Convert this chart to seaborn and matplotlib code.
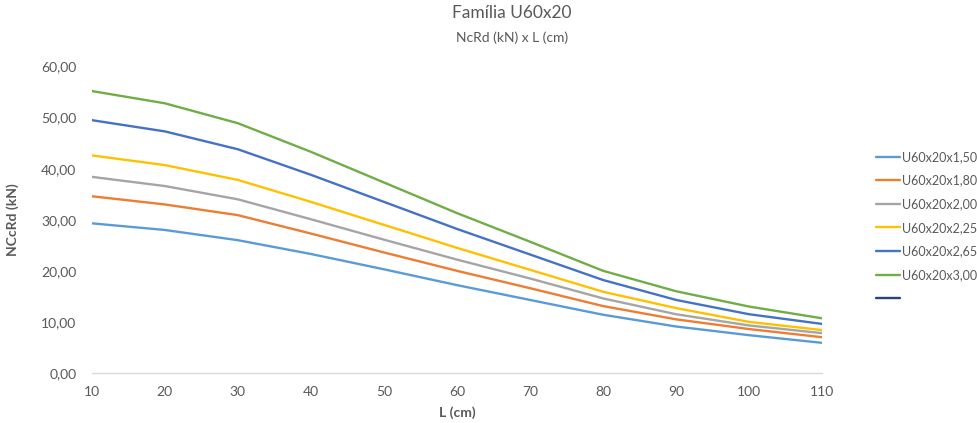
import matplotlib
matplotlib.use("Agg")
import matplotlib.pyplot as plt
from matplotlib.lines import Line2D
import seaborn as sns
import pandas as pd

# ---- data ----
L_cm = [10, 20, 30, 40, 50, 60, 70, 80, 90, 100, 110]
series_names = ["U60x20x1,50", "U60x20x1,80", "U60x20x2,00",
                "U60x20x2,25", "U60x20x2,65", "U60x20x3,00"]
u150 = [29.3, 28.0, 26.0, 23.3, 20.3, 17.2, 14.3, 11.4, 9.1, 7.4, 5.9]
u180 = [34.6, 33.0, 30.9, 27.3, 23.6, 20.0, 16.6, 13.1, 10.5, 8.6, 7.0]
u200 = [38.4, 36.6, 34.0, 30.1, 26.1, 22.2, 18.5, 14.6, 11.5, 9.3, 7.8]
u225 = [42.6, 40.7, 37.8, 33.5, 29.0, 24.5, 20.2, 15.9, 12.7, 10.0, 8.4]
u265 = [49.5, 47.3, 43.8, 38.8, 33.5, 28.2, 23.2, 18.2, 14.3, 11.5, 9.6]
u300 = [55.2, 52.8, 48.9, 43.3, 37.3, 31.3, 25.7, 20.0, 16.0, 13.0, 10.7]
y_ticks = [0, 10, 20, 30, 40, 50, 60]
y_tick_labels = ["0,00", "10,00", "20,00", "30,00", "40,00", "50,00", "60,00"]
title = "Família U60x20"
subtitle = "NcRd (kN) x L (cm)"
x_label = "L (cm)"
y_label = "NCcRd (kN)"

colors = ["#5B9BD5", "#ED7D31", "#A5A5A5", "#FFC000", "#4472C4", "#70AD47"]
extra_color = "#264478"

rows = []
for name, vals in zip(series_names, [u150, u180, u200, u225, u265, u300]):
    for l, v in zip(L_cm, vals):
        rows.append({"L": l, "N": v, "serie": name})
df = pd.DataFrame(rows)

sns.set_theme(style="white")
plt.rcParams["font.family"] = ["Lato", "DejaVu Sans"]

fig = plt.figure(figsize=(9.78, 4.23), dpi=100)
ax = fig.add_axes([91.7 / 978, 1 - 373 / 423, (822.3 - 91.7) / 978, (373 - 66.5) / 423])

sns.lineplot(data=df, x="L", y="N", hue="serie", hue_order=series_names,
             palette=colors, linewidth=1.7, legend=False, ax=ax)

ax.set_xlim(10, 110)
ax.set_ylim(0, 60)
ax.set_xticks(L_cm)
ax.set_xticklabels([str(v) for v in L_cm])
ax.set_yticks(y_ticks)
ax.set_yticklabels(y_tick_labels)

gray = "#595959"
for s in ["top", "right", "left"]:
    ax.spines[s].set_visible(False)
ax.spines["bottom"].set_color("#D9D9D9")
ax.spines["bottom"].set_linewidth(1.0)
ax.tick_params(axis="x", direction="inout", length=6, width=1, color="#D9D9D9",
               labelsize=10, labelcolor=gray, pad=6)
ax.tick_params(axis="y", length=0, labelsize=10, labelcolor=gray, pad=11)

ax.set_xlabel(x_label, fontsize=10, fontweight="bold", color=gray, labelpad=6)
ax.set_ylabel(y_label, fontsize=10, fontweight="bold", color=gray)
ax.yaxis.set_label_coords((19 - 91.7) / 730.6, 0.5)

fig.text(512 / 978, 1 - 13 / 423, title, ha="center", va="center", fontsize=12.5, color=gray)
fig.text(512 / 978, 1 - 38 / 423, subtitle, ha="center", va="center", fontsize=10, color=gray)

handles = [Line2D([0], [0], color=c, lw=1.7) for c in colors] + [Line2D([0], [0], color=extra_color, lw=1.7)]
labels = series_names + [""]
leg = fig.legend(handles, labels, loc="upper left", bbox_to_anchor=(876 / 978, 1 - 151 / 423),
                 frameon=False, fontsize=9, handlelength=1.9, handletextpad=0.15,
                 labelspacing=0.93, borderaxespad=0, borderpad=0)
for t in leg.get_texts():
    t.set_color(gray)

fig.savefig("out.png", dpi=100)
